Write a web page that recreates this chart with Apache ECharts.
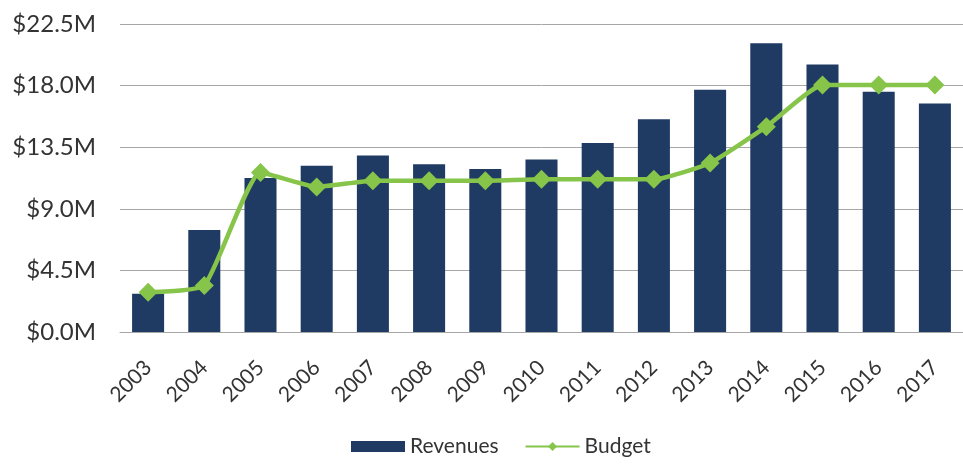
<!DOCTYPE html>
<html>
<head>
<meta charset="utf-8">
<script src="https://cdn.jsdelivr.net/npm/echarts@6/dist/echarts.min.js"></script>
<style>
  html, body { margin: 0; padding: 0; background: #fff; }
  #chart { width: 963px; height: 464px; }
</style>
</head>
<body>
<div id="chart"></div>
<script>
// Fiscal years on the category axis
const years = ['2003', '2004', '2005', '2006', '2007', '2008', '2009', '2010',
               '2011', '2012', '2013', '2014', '2015', '2016', '2017'];

// Annual revenues, in millions of dollars
const revenues = [2.8, 7.45, 11.25, 12.15, 12.9, 12.25, 11.9, 12.6,
                  13.8, 15.55, 17.7, 21.1, 19.55, 17.55, 16.7];

// Annual budget, in millions of dollars
const budget = [2.9, 3.4, 11.65, 10.6, 11.05, 11.05, 11.05, 11.15,
                11.15, 11.15, 12.35, 15.0, 18.05, 18.05, 18.05];

// Value-axis tick values (millions)
const yTicks = [0, 4.5, 9, 13.5, 18, 22.5];

const navy = '#1f3b63';
const green = '#86c44a';
const textColor = '#333333';
const font = 'Lato, "Open Sans", sans-serif';

const chart = echarts.init(document.getElementById('chart'), null, { renderer: 'canvas' });

chart.setOption({
  backgroundColor: '#ffffff',
  animation: false,
  grid: { left: 120, top: 24, width: 847, height: 308, containLabel: false },
  legend: {
    bottom: 2,
    left: 346,
    itemGap: 26,
    textStyle: { color: textColor, fontFamily: font, fontSize: 21 },
    data: [
      { name: 'Revenues', icon: 'rect' },
      { name: 'Budget' }
    ],
    itemWidth: 54,
    itemHeight: 11
  },
  xAxis: {
    type: 'category',
    data: years,
    boundaryGap: true,
    axisLine: { show: true, lineStyle: { color: '#a6a6a6', width: 1 } },
    axisTick: { show: false },
    axisLabel: {
      rotate: 45,
      margin: 32,
      interval: 0,
      color: textColor,
      fontFamily: font,
      fontSize: 21
    }
  },
  yAxis: {
    type: 'value',
    min: yTicks[0],
    max: yTicks[yTicks.length - 1],
    interval: yTicks[1] - yTicks[0],
    axisLine: { show: false },
    axisTick: { show: false },
    splitLine: { lineStyle: { color: '#a6a6a6', width: 1 } },
    axisLabel: {
      margin: 24,
      color: textColor,
      fontFamily: font,
      fontSize: 24,
      formatter: v => '$' + v.toFixed(1) + 'M'
    }
  },
  series: [
    {
      name: 'Revenues',
      type: 'bar',
      data: revenues,
      barCategoryGap: '43%',
      itemStyle: { color: navy }
    },
    {
      name: 'Budget',
      type: 'line',
      data: budget,
      smooth: 0.15,
      symbol: 'diamond',
      symbolSize: [19, 19],
      lineStyle: { color: green, width: 4.5 },
      itemStyle: { color: green },
      z: 5
    }
  ]
});
</script>
</body>
</html>
